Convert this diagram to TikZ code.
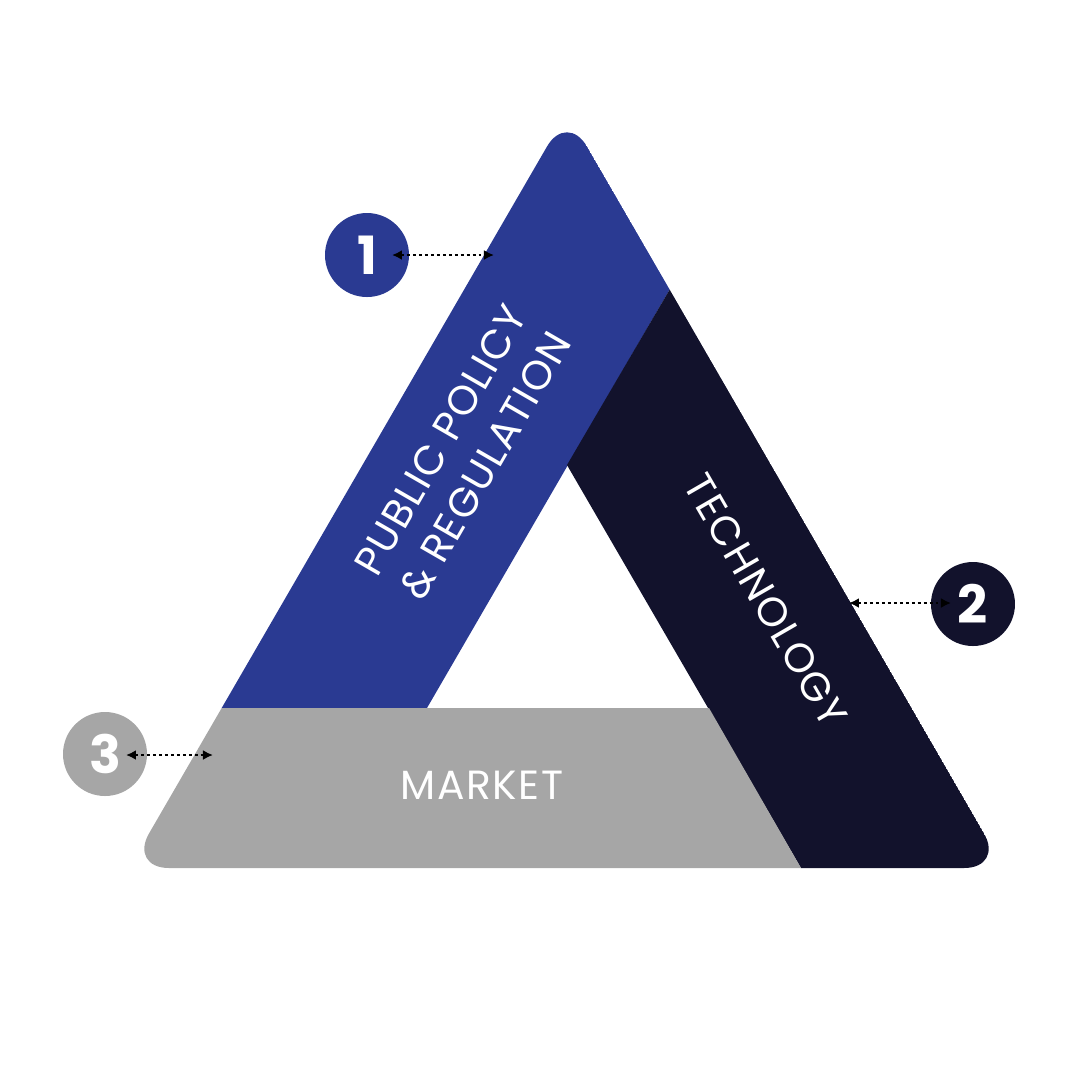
\documentclass[tikz,border=0pt]{standalone}
\usepackage{fontspec}
\newfontfamily\thinfont{Poppins}[LetterSpace=4]
\newfontfamily\numfont{Poppins}
\usepackage{tikz}
\usetikzlibrary{arrows.meta,positioning,calc}

\definecolor{policyblue}{RGB}{42,58,146}
\definecolor{technavy}{RGB}{18,18,44}
\definecolor{marketgrey}{RGB}{166,166,166}

\begin{document}
\begin{tikzpicture}[x=0.1mm,y=-0.1mm,>={Latex[length=1mm,width=1mm]},
  badge/.style={circle,minimum size=8.4mm,inner sep=0pt,text=white,font=\numfont\bfseries\fontsize{15}{15}\selectfont},
  bandtext/.style={text=white,align=center,font=\thinfont\fontsize{11.6}{14.6}\selectfont},
  link/.style={<->,line width=0.8pt,dash pattern=on 0.8pt off 0.9pt}]
  \useasboundingbox (0,0) rectangle (1080,1080);
  % outer triangle and the hole
  \coordinate (top) at (567,112);
  \coordinate (bl) at (129,868);
  \coordinate (br) at (1004,868);
  \coordinate (itop) at (567,465);
  \coordinate (ibl) at (427,708);
  \coordinate (ibr) at (709,708);
  \coordinate (lcut) at (221,708);
  \coordinate (rcut) at (670,289);
  \coordinate (bcut) at (801,868);
  \begin{scope}
    \clip[rounded corners=4mm] (top) -- (bl) -- (br) -- cycle;
    \fill[policyblue] (top) -- (lcut) -- (ibl) -- (rcut) -- cycle;
    \fill[technavy] (rcut) -- (br) -- (bcut) -- (itop) -- cycle;
    \fill[marketgrey] (lcut) -- (ibr) -- (bcut) -- (bl) -- cycle;
  \end{scope}
  \node[bandtext,rotate=60] (policy) at (463,453) {PUBLIC POLICY\\\& REGULATION};
  \node[bandtext,rotate=-60] (tech) at (766,600) {TECHNOLOGY};
  \node[bandtext] (market) at (482,785) {MARKET};
  % numbered badges
  \node[badge,fill=policyblue] (one) at (367,255) {1};
  \node[badge,fill=technavy] (two) at (973,604) {2};
  \node[badge,fill=marketgrey] (three) at (105,754) {3};
  \coordinate (one-end) at (392,255);
  \coordinate (policy-end) at (494,255);
  \coordinate (two-end) at (951,603);
  \coordinate (tech-end) at (849,603);
  \coordinate (three-end) at (126,755);
  \coordinate (market-end) at (213,755);
  \draw[link] (one-end) -- (policy-end);
  \draw[link] (tech-end) -- (two-end);
  \draw[link] (three-end) -- (market-end);
\end{tikzpicture}
\end{document}
